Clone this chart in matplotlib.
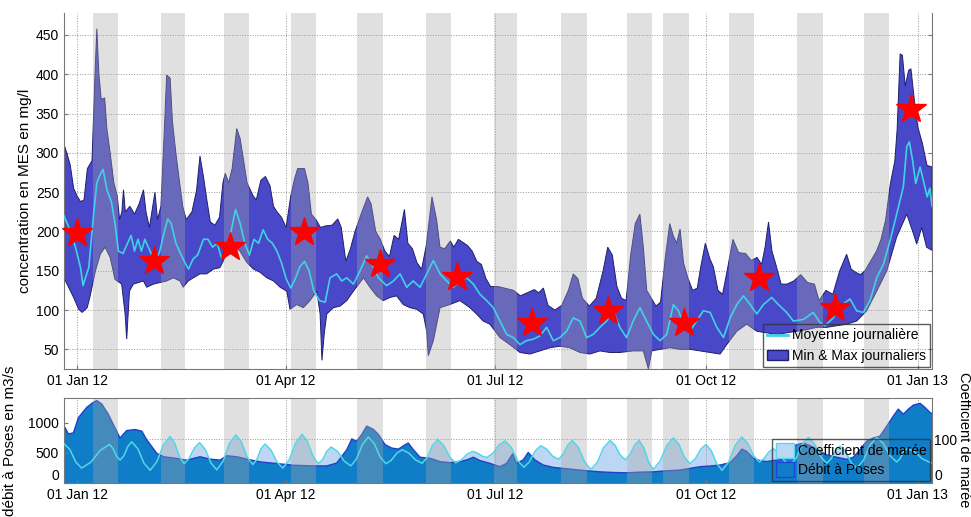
import numpy as np
import matplotlib
matplotlib.use("Agg")
import matplotlib.pyplot as plt
import matplotlib.dates as mdates
from matplotlib.lines import Line2D
from matplotlib.patches import Patch
from datetime import datetime

plt.rcParams['font.family'] = ['Liberation Sans', 'DejaVu Sans']

# jours comptés depuis le 01/01/2012
t0 = mdates.date2num(datetime(2012, 1, 1))

max_days = [-5.7, -4.5, -3, -1.5, 0, 1.5, 3, 4.5, 6.5, 7.8, 8.6, 9.5, 10.5, 12, 13, 14.4, 16, 17.5, 18.5, 19.5,
            20.2, 21, 23, 25, 27, 28.9, 30, 31.5, 33.9, 35, 36.5, 38, 39, 40.5, 41.5, 43, 44.5, 46, 47.5, 50,
            52, 53.5, 55, 56.5, 58, 60, 62, 63.5, 64.5, 66, 67.5, 69.5, 71, 72.5, 74, 76.5, 78, 80, 82, 84,
            85.5, 87, 89, 91, 93, 94.5, 96, 99, 100.5, 102,
            104, 106, 108, 111, 113.5, 115, 117, 119, 121, 124, 126.5, 128, 130, 132, 134, 136, 138, 140, 142.5, 144,
            146, 148, 150, 152, 154.5, 156.5, 158, 160, 162.5, 164, 166, 168, 170, 172, 174, 176, 178, 180, 183, 186,
            190, 193, 196, 199, 201, 203, 205, 208, 211, 214, 216, 218, 220, 223, 226, 229, 231, 233, 235, 237,
            239, 241, 243, 245,
            246.5, 248, 250, 252, 254, 256, 258, 259.5, 261, 262.5, 264, 266, 268, 270, 271.5, 273.5, 275.5, 277, 279, 281,
            283, 285.5, 288, 291, 293.5, 296, 298, 299.5, 301, 302.5, 304, 306.5, 309, 312, 315, 318, 321, 323, 326, 329,
            332, 335, 337, 339, 341, 343, 345, 348, 350, 352, 354, 356, 357, 358.3, 359.3, 360.5, 362, 363, 364.5, 366,
            368, 370, 372.2]
max_vals = [311, 300, 285, 255, 245, 238, 240, 280, 290, 400, 458, 400, 368, 370, 330, 300, 262, 245, 215, 225,
            253, 225, 232, 222, 235, 253, 225, 205, 250, 215, 232, 330, 399, 395, 340, 300, 265, 232, 215, 225,
            252, 296, 270, 240, 212, 208, 218, 262, 274, 262, 280, 331, 318, 290, 262, 246, 240, 265, 270, 258,
            232, 225, 218, 205, 245, 265, 280, 280, 262, 222,
            215, 205, 207, 208, 216, 205, 162, 178, 200, 225, 244, 235, 200, 190, 175, 168, 195, 190, 228, 185,
            178, 160, 152, 182, 244, 215, 180, 178, 188, 180, 190, 186, 182, 175, 162, 158, 140, 130, 130, 128,
            125, 118, 122, 126, 122, 128, 106, 100, 106, 126, 146, 140, 115, 105, 115, 150, 180, 170, 130, 115,
            112, 170, 210, 222,
            180, 125, 115, 105, 110, 165, 210, 195, 185, 203, 160, 140, 125, 128, 155, 185, 165, 155, 125, 120,
            150, 190, 173, 172, 163, 167, 158, 180, 212, 175, 160, 133, 133, 137, 145, 135, 133, 112, 125, 120,
            150, 171, 152, 148, 145, 150, 160, 175, 190, 215, 260, 290, 330, 426, 424, 385, 405, 407, 367, 333,
            312, 284, 282]

min_days = [-5.7, -3.7, -1.5, 0.7, 2.2, 4.4, 5.7, 8, 10.1, 12.2, 14.4, 16.5, 19.4, 20.9, 21.6, 22.8, 24.5, 28.9, 30.3, 33.2,
            36.1, 39, 41.9, 44.8, 46.2, 48.4, 50.6, 53.5, 56.4, 59.3, 62.2, 65.1, 68, 70.9, 73.8, 76.8, 79.7, 82.6, 85.5, 88.4,
            91.3, 92.7, 95.6, 98.5, 101.4, 104.3, 105.8, 106.6, 107.6, 108.7, 111.6, 114.5, 117.4, 120.3, 124.7, 127.5, 130.4,
            133.3, 136.2, 139.1, 142, 144.9, 147.8, 150.7, 152.2, 152.9, 155.1, 158, 162.3, 166.7, 171, 173.9, 176.8, 179.7,
            184.1, 188.4, 192.8, 197.1, 201.5, 205.8, 210.2, 214.5, 218.9, 223.2, 227.6, 231.9, 236.3, 242.1, 246.5, 248.7,
            250.2, 253.8, 258.1, 262.5, 266.8, 271.2, 275.6, 279.9, 282.8, 287.2, 291.5, 295.9, 300.2, 304.6, 308.9, 313.3,
            317.6, 322, 326.3, 330.7, 335, 339.4, 343.7, 348.1, 352.5, 356.8, 361.2, 364.1, 365.5, 367.7, 369.8, 372.2]
min_vals = [141, 129, 116, 101, 97, 103, 118, 150, 171, 180, 167, 139, 133, 95, 63, 124, 133, 137, 129, 133,
            135, 137, 141, 137, 129, 137, 141, 146, 146, 152, 154, 171, 182, 175, 161, 152, 148, 141, 137, 129,
            124, 101, 107, 103, 112, 124, 95, 36, 70, 95, 103, 105, 112, 124, 141, 129, 118,
            112, 116, 118, 107, 103, 101, 95, 73, 42, 61, 103, 107, 112, 103, 95, 86, 82,
            65, 56, 46, 44, 48, 52, 54, 52, 46, 44, 48, 46, 46, 48, 48, 25,
            48, 50, 52, 50, 50, 48, 46, 44, 56, 73, 82, 73, 71, 69, 71, 73,
            75, 78, 78, 80, 82, 86, 99, 124, 150, 193, 222, 197, 184, 205, 180, 176]

mean_days = [-5.7, -3, -0.7, 1.5, 2.6, 3.6, 5.1, 7.2, 8.6, 10, 11.3, 13, 15, 16.5, 18, 20, 22, 23.5, 25, 26.5,
             28, 29.5, 31, 32.5, 34, 36, 38, 39.5, 41, 43, 45, 47, 48.5, 50.5, 52.5, 55, 57, 59, 61, 63,
             65, 67, 69, 71, 73, 75, 77, 79, 81, 83, 85, 87, 89, 91, 93, 95, 97, 99, 101, 103, 105.5, 108,
             110.1, 113, 115.2, 117.4, 120.3, 123.2, 126.1, 128.3, 131.2, 134.8, 137.7, 140.6, 143.5, 146.3, 149.3,
             152.2, 155.1, 158, 160.9, 163.8, 166.7, 169.6, 172.5, 175.4, 178.3, 181.2, 184.1, 187, 189.9, 192.8,
             195.6, 198.6, 201.5, 204.4, 207.3, 210.2, 213.1, 216, 218.9, 221.8, 224.7, 227.6, 230.5, 233.4, 236.3,
             239.2, 242.1, 245, 247.9,
             250.9, 253.8, 256.7, 259.6, 261.8, 264, 266.8, 269.7, 272.6, 275.6, 278.5, 281.4, 284.3, 287.2, 290.1,
             293, 295.9, 298.8, 302.4, 305.3, 308.9, 311.8, 316.2, 320.5, 323.4, 325.6, 329.2, 332.1, 336.5, 339.4,
             342.3, 345.2, 348.1, 351, 353.9, 356.8, 359.7, 361.2, 362.3, 363.7, 365.1, 367, 368.4, 370.1, 371.2, 372.2]
mean_vals = [220, 201, 180, 154, 131, 141, 154, 222, 262, 272, 279, 253, 237, 210, 175, 172, 185, 195, 175, 190,
             175, 190, 180, 170, 160, 175, 200, 216, 210, 185, 172, 160, 152, 165, 170, 190, 190, 180, 185, 165,
             172, 200, 228, 210, 185, 170, 190, 185, 202, 190, 185, 175, 160, 140, 128, 140, 155, 162, 150, 125, 112, 110,
             141, 146, 137, 141, 133, 150, 169, 158, 141, 131, 137, 146, 129, 137, 129,
             146, 163, 146, 137, 129, 137, 141, 133, 120, 112, 103, 86, 69, 65, 56,
             61, 63, 67, 78, 61, 65, 73, 90, 86, 65, 69, 78, 86, 99, 78,
             65, 86, 103, 86,
             69, 61, 69, 107, 99, 82, 73, 86, 99, 97, 78, 65, 90, 107, 118,
             107, 95, 107, 116, 107, 97, 86, 88, 97, 84, 80, 90, 105, 114, 99,
             97, 112, 141, 158, 188, 222, 257, 308, 314, 291, 261, 282, 265, 244, 255, 232]

star_days = [0, 33.5, 66.6, 99, 132, 165.4, 198, 231, 264, 297, 330, 363]
star_vals = [198, 163, 180, 199, 158, 142, 83, 99, 84, 141, 102, 356]

band_start = [7.0, 36.6, 64.0, 93.2, 121.9, 151.9, 181.5, 210.7, 239.4, 255.1, 283.8, 313.5, 342.6]
band_end = [17.8, 47.0, 74.9, 104.0, 133.2, 162.8, 191.6, 222.0, 250.3, 266.4, 294.7, 324.8, 353.5]

q_days = [-5.7, -5.2, -3.8, -1.6, 0.6, 4.2, 7.1, 8.6, 10.7, 13.6, 16.5, 18.7, 21.6, 25.3, 28.2,
          30.3, 34.7, 37.6, 43.4, 47.7, 53.5, 57.9, 62.2, 65.2, 69.5, 73.9, 79.7, 86.9, 94.2, 102.9,
          108.7, 113, 117.4, 119.6, 121.7, 123.9, 126.1, 127.5, 129, 131.2, 134.1, 137, 139.9, 142.8, 144.2,
          146.4, 149.3, 153.6, 158, 162.3, 166.7, 169.6, 172.5, 175.4, 179.7, 184.1, 187, 189.6, 191.3, 194.2,
          196.4, 199.3, 202.9, 207.3, 211.6, 216, 221.8, 227.6, 233.4, 239.2, 245, 250.9, 256.7, 262.5, 266.8,
          271.2, 275.6, 279.9, 284.3, 287.2, 289.4, 291.5, 294.4, 297.3, 300.2, 303.1, 307.5, 310.4, 313.3, 316.2,
          319.1, 322, 326.3, 330.7, 335, 337.9, 340.8, 343.7, 346.7, 349.5, 352.5, 355.4, 357.5, 359.7, 361.9,
          364.1, 367, 369.1, 371.3, 372.2]
q_vals = [930, 915, 814, 830, 1085, 1254, 1339, 1367, 1311, 1141, 915, 746, 870, 887, 859,
          718, 492, 435, 407, 379, 435, 396, 379, 452, 435, 396, 350, 322, 294, 283,
          283, 330, 551, 731, 691, 804, 944, 916, 888, 804, 635, 579, 562, 635, 663,
          551, 427, 410, 354, 337, 354, 382, 427, 371, 326, 270, 326, 483, 326, 382,
          506, 382, 298, 259, 242, 225, 202, 185, 174, 169, 180, 185, 202, 214, 242,
          270, 281, 298, 337, 450, 562, 523, 410, 371, 354, 371, 393, 579, 635, 663,
          618, 562, 466, 427, 393, 427, 551, 691, 747, 776, 944, 1113, 1225, 1141, 1225,
          1293, 1321, 1253, 1169, 1150]

tide_days = [-5.7, -3.1, -0.6, 2.0, 6.0, 10.1, 14.1, 15.6, 17.2, 18.7, 20.4, 22.1, 23.8, 26.5, 29.1, 31.8,
             34.7, 37.6, 40.5, 42.5, 44.6, 46.6, 48.8, 51.1, 53.3, 55.8, 58.3, 60.8, 63.6, 66.3, 69.1, 71.6,
             74.0, 76.5, 78.3, 80.0, 81.8, 84.4, 87.0, 89.6, 92.4, 95.2, 98.0, 100.3, 102.7, 105.0, 106.9, 108.7,
             110.6, 113.5, 116.3, 119.2, 121.7, 124.3, 126.8, 129.4, 131.9, 134.5, 136.8, 139.2, 141.5, 144.4,
             147.3, 150.2, 152.5, 154.7, 157.0, 159.6, 162.2, 164.8, 167.3, 169.7, 172.2, 174.2, 176.3, 178.3,
             181.0, 183.6, 186.3, 189.0, 191.8, 194.5, 196.9, 199.4, 201.8, 204.4, 206.9, 209.5, 211.5, 213.6,
             215.6, 218.3, 221.0, 223.7, 226.5, 229.2, 232.0, 234.2, 236.4, 238.6, 240.6, 242.7, 244.7, 246.7,
             248.8, 250.8, 253.7, 256.7, 259.6, 262.0, 264.4, 266.8, 269.1, 271.5, 273.8, 276.1, 278.5, 280.8,
             283.7, 286.5, 289.4, 291.9, 294.5, 297.0, 299.0, 301.1, 303.1, 305.5, 308.0, 310.4, 313.1, 315.7,
             318.4, 321.0, 323.7, 326.3, 328.2, 330.2, 332.1, 334.5, 337.0, 339.4, 342.3, 345.2, 348.1, 351.0,
             353.9, 356.8, 358.3, 359.8, 361.3, 364.6, 368.0, 371.3, 372.2]
tide_vals = [90, 76, 48, 34, 47.5, 74.5, 88, 79, 61, 52, 62.5, 83.5, 94, 77.8, 45.3, 29,
             48.3, 86.8, 106, 90.5, 59.5, 44, 56, 80, 92, 76.5, 45.5, 30, 50, 90, 110, 93,
             59, 42, 53.8, 77.3, 89, 75.3, 47.8, 34, 53.3, 91.8, 111, 94.3, 60.8, 44, 53.5, 72.5,
             82, 71.3, 49.8, 39, 55.5, 88.5, 105, 89.8, 59.3, 44, 52, 68, 76, 68.3,
             52.8, 45, 58.5, 85.5, 99, 85.8, 59.3, 46, 52.5, 65.5, 72, 68.5, 61.5, 58,
             67.5, 86.5, 96, 81, 51, 36, 48.3, 72.8, 85, 77.3, 61.8, 54, 64.8, 86.3,
             97, 80.5, 47.5, 31, 47.5, 80.5, 97, 86, 64, 53, 64, 86, 97, 80.5,
             47.5, 31, 49, 85, 103, 88.3, 58.8, 44, 55, 77, 88, 73.3, 43.8, 29,
             48, 86, 105, 90.8, 62.3, 48, 55.5, 70.5, 78, 68.8, 50.3, 41, 56.8, 88.3,
             104, 89.3, 59.8, 45, 54.8, 74.3, 84, 71.5, 46.5, 34, 51.5, 86.5, 104, 90,
             62, 48, 55.8, 71.3, 79, 71, 55, 47, 46]


def dn(days):
    return t0 + np.asarray(days, dtype=float)


xlim = (dn(-5.7), dn(372.2))
spine_col = '#777777'

fig = plt.figure(figsize=(9.71, 5.17), dpi=100)

# --- panneau du haut : MES ---
ax = fig.add_axes([0.0659, 0.2863, 0.894, 0.6886])
ax.fill(np.concatenate([dn(max_days), dn(min_days)[::-1]]),
        np.concatenate([np.array(max_vals), np.array(min_vals)[::-1]]),
        facecolor='#4848c8', edgecolor='#20206a', lw=0.7, zorder=1)
for s, e in zip(band_start, band_end):
    ax.axvspan(dn(s), dn(e), color='#a8a8a8', alpha=0.35, lw=0, zorder=2)
ax.plot(dn(mean_days), mean_vals, color='#3fd2e6', lw=1.2, zorder=3)
ax.plot(dn(star_days), star_vals, '*', ms=22, color='red', mec='red', zorder=4, clip_on=False)
ax.set_xlim(*xlim)
ax.set_ylim(25, 478)
ax.set_yticks(range(50, 451, 50))
ax.xaxis.set_major_locator(mdates.MonthLocator(bymonth=[1, 4, 7, 10]))
ax.xaxis.set_major_formatter(mdates.DateFormatter('%d %b %y'))
ax.grid(True, ls=':', color='#999999', lw=0.7)
ax.set_axisbelow(True)
ax.tick_params(direction='in', length=3, labelsize=10, right=True, color=spine_col)
ax.spines['top'].set_visible(False)
for sp in ax.spines.values():
    sp.set_color(spine_col)
ax.set_ylabel('concentration en MES en mg/l', fontsize=11, labelpad=3)
leg = ax.legend([Line2D([], [], color='#3fd2e6', lw=2),
                 Patch(facecolor='#4848c8', edgecolor='#20206a')],
                ['Moyenne journalière', 'Min & Max journaliers'],
                loc='lower right', bbox_to_anchor=(0.998, 0.006), borderaxespad=0,
                fontsize=10, fancybox=False, edgecolor='#333333', handlelength=1.5,
                handletextpad=0.3, labelspacing=0.45, borderpad=0.3)
leg.get_frame().set_facecolor('none')
leg.set_zorder(5)

# --- panneau du bas : débit et coefficient de marée ---
pos_b = [0.0659, 0.0658, 0.894, 0.1644]
axT = fig.add_axes(pos_b)
axQ = fig.add_axes(pos_b)
axL = fig.add_axes(pos_b)
axT.set_zorder(0)
axQ.set_zorder(1)
axL.set_zorder(2)
axQ.patch.set_visible(False)
axL.patch.set_visible(False)

for a in (axT, axQ, axL):
    a.set_xlim(*xlim)
    a.xaxis.set_major_locator(mdates.MonthLocator(bymonth=[1, 4, 7, 10]))
    a.xaxis.set_major_formatter(mdates.DateFormatter('%d %b %y'))

axT.fill_between(dn(tide_days), 0, tide_vals, color='#bdd6f3', lw=0)
axT.set_ylim(0, 194)
axT.set_yticks([100])
axT.grid(True, ls=':', color='#999999', lw=0.7)
axT.tick_params(left=False, bottom=False, labelleft=False, labelbottom=False)
for sp in axT.spines.values():
    sp.set_visible(False)

axQ.fill_between(dn(q_days), 0, q_vals, facecolor='#0f7dc7', edgecolor='none')
axQ.plot(dn(q_days), q_vals, color='#2340c8', lw=1)
axQ.set_ylim(0, 1410)
axQ.set_yticks([0, 500, 1000])
axQ.tick_params(direction='in', length=3, labelsize=10, color=spine_col)
axQ.set_ylabel('débit à Poses en m3/s', fontsize=11, labelpad=8)
axQ.yaxis.get_major_ticks()[0].label1.set_va('bottom')
for sp in axQ.spines.values():
    sp.set_visible(False)

for s, e in zip(band_start, band_end):
    axL.axvspan(dn(s), dn(e), color='#a8a8a8', alpha=0.35, lw=0, zorder=1)
axL.plot(dn(tide_days), tide_vals, color='#52d6e8', lw=1.1, zorder=3)
axL.set_ylim(0, 194)
axL.yaxis.tick_right()
axL.set_yticks([0, 100])
axL.tick_params(direction='in', length=3, pad=1.5, labelsize=10, bottom=False, labelbottom=False,
                color=spine_col)
axL.yaxis.get_major_ticks()[0].label2.set_va('bottom')
for sp in axL.spines.values():
    sp.set_color(spine_col)
leg2 = axL.legend([Patch(facecolor='#bdd6f3', edgecolor='#5ad8ea'),
                   Patch(facecolor='#0f7dc7', edgecolor='#2340e0')],
                  ['Coefficient de marée', 'Débit à Poses'],
                  loc='lower right', bbox_to_anchor=(0.998, 0.024), borderaxespad=0,
                  fontsize=10, fancybox=False, edgecolor='#333333', handlelength=1.3,
                  handleheight=1.3, labelspacing=0.3, handletextpad=0.3, borderpad=0.25)
leg2.get_frame().set_facecolor('none')
leg2.set_zorder(5)

# titre de l'axe de droite, placé à la main pour rester dans l'image
fig.text(964 / 971, 1 - 440 / 517, 'Coefficient de marée', fontsize=10.5,
         rotation=270, ha='center', va='center')

fig.savefig('out.png', dpi=100)
